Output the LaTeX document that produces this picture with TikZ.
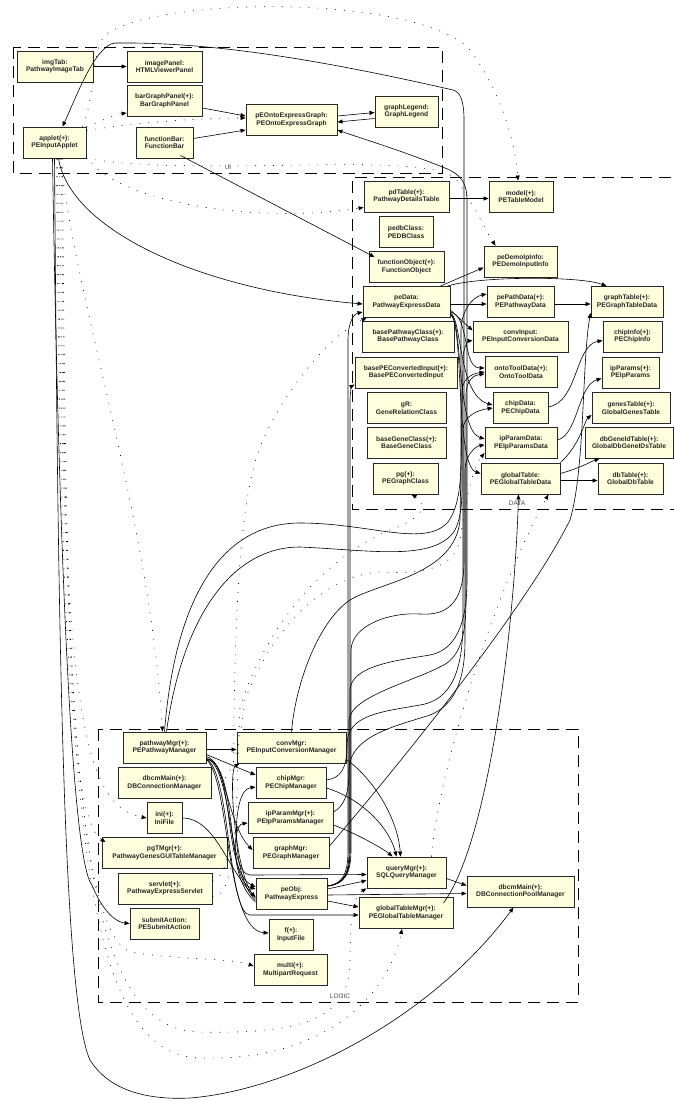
\documentclass[tikz,border=0pt]{standalone}
\usepackage{fontspec}
\setmainfont{Liberation Sans}
\usetikzlibrary{arrows.meta}
\definecolor{clsfill}{RGB}{255,255,221}
\definecolor{clsline}{RGB}{40,40,40}
\tikzset{
	cls/.style = {draw=clsline, fill=clsfill, line width=0.9pt, align=center, minimum height=31pt, inner sep=1pt, text=black!85, font=\bfseries\fontsize{6.7}{7.5}\selectfont},
	w/.style = {minimum width=#1pt},
	pkg/.style = {dash pattern=on 12pt off 7pt, line width=0.8pt},
	pkglabel/.style = {font=\fontsize{6.5}{7}\selectfont, text=black!70, inner sep=1pt}}
\tikzset{
	uses/.style = {-{Triangle[length=5pt,width=4pt]}, line width=0.6pt},
	dep/.style = {uses, dash pattern=on 0.9pt off 8pt}}

\begin{document}
\begin{tikzpicture}[x=1pt, y=-1pt]
\useasboundingbox (0,0) rectangle (673,1101);
\fill[white] (0,0) rectangle (673,1101);

% PACKAGES
\draw[pkg] (13,47) rectangle (442,173);
\draw[pkg] (690,177) -- (352,177) -- (352,509) -- (690,509);
\draw[pkg] (98,729) rectangle (578,1002);
\node[pkglabel] (uiLabel) at (228,167) {UI};
\node[pkglabel] (dataLabel) at (517,503) {DATA};
\node[pkglabel] (logicLabel) at (340,996) {LOGIC};

% NODES (UI)
\node[cls, w=76] (imgTab) at (55,66.5) {imgTab:\\PathwayImageTab};
\node[cls, w=75] (imagePanel) at (164.5,66.5) {imagePanel:\\HTMLViewerPanel};
\node[cls, w=75] (barGraphPanel) at (164.5,101) {barGraphPanel(+):\\BarGraphPanel};
\node[cls, w=91] (pEOntoExpressGraph) at (291.5,120) {pEOntoExpressGraph:\\PEOntoExpressGraph};
\node[cls, w=63] (graphLegend) at (406.5,111.5) {graphLegend:\\GraphLegend};
\node[cls, w=63] (applet) at (54.5,142.5) {applet(+):\\PEInputApplet};
\node[cls, w=57] (functionBar) at (164.5,142.5) {functionBar:\\FunctionBar};

% NODES (DATA)
\node[cls, w=85] (pdTable) at (406.5,196.5) {pdTable(+):\\PathwayDetailsTable};
\node[cls, w=64] (model) at (521,196.5) {model(+):\\PETableModel};
\node[cls, w=54] (pedbClass) at (406,232) {pedbClass:\\PEDBClass};
\node[cls, w=75] (functionObject) at (406.5,267) {functionObject(+):\\FunctionObject};
\node[cls, w=73] (peDemoIpInfo) at (520.5,261.5) {peDemoIpInfo:\\PEDemoInputInfo};
\node[cls, w=87] (peData) at (406.5,302) {peData:\\PathwayExpressData};
\node[cls, w=67] (pePathData) at (520.5,302) {pePathData(+):\\PEPathwayData};
\node[cls, w=72] (graphTable) at (627,302) {graphTable(+):\\PEGraphTableData};
\node[cls, w=92] (basePathwayClass) at (408,336.5) {basePathwayClass(+):\\BasePathwayClass};
\node[cls, w=95] (convInput) at (520.5,336.5) {convInput:\\PEInputConversionData};
\node[cls, w=59] (chipInfo) at (632.5,336.5) {chipInfo(+):\\PEChipInfo};
\node[cls, w=102] (basePEConvertedInput) at (406,372.5) {basePEConvertedInput(+):\\BasePEConvertedInput};
\node[cls, w=72] (ontoToolData) at (521,372) {ontoToolData(+):\\OntoToolData};
\node[cls, w=57] (ipParams) at (630.5,372.5) {ipParams(+):\\PEIpParams};
\node[cls, w=79] (gR) at (406.5,408) {gR:\\GeneRelationClass};
\node[cls, w=55] (chipData) at (520.5,408) {chipData:\\PEChipData};
\node[cls, w=78] (genesTable) at (631,408) {genesTable(+):\\GlobalGenesTable};
\node[cls, w=79] (baseGeneClass) at (406.5,442.5) {baseGeneClass(+):\\BaseGeneClass};
\node[cls, w=72] (ipParamData) at (521,443) {ipParamData:\\PEIpParamsData};
\node[cls, w=88] (dbGeneIdTable) at (629,442.5) {dbGeneIdTable(+):\\GlobalDbGeneIDsTable};
\node[cls, w=65] (pg) at (405.5,478.5) {pg(+):\\PEGraphClass};
\node[cls, w=79] (globalTable) at (520.5,478.5) {globalTable:\\PEGlobalTableData};
\node[cls, w=65] (dbTable) at (630.5,478.5) {dbTable(+):\\GlobalDbTable};

% NODES (LOGIC)
\node[cls, w=83] (pathwayMgr) at (164.5,747.5) {pathwayMgr(+):\\PEPathwayManager};
\node[cls, w=109] (convMgr) at (291.5,747.5) {convMgr:\\PEInputConversionManager};
\node[cls, w=93] (dbcmMain) at (164.5,783) {dbcmMain(+):\\DBConnectionManager};
\node[cls, w=70] (chipMgr) at (291,783) {chipMgr:\\PEChipManager};
\node[cls, w=35] (ini) at (164.5,818) {ini(+):\\IniFile};
\node[cls, w=85] (ipParamMgr) at (290.5,818) {ipParamMgr(+):\\PEIpParamsManager};
\node[cls, w=125] (pgTMgr) at (164.5,853) {pgTMgr(+):\\PathwayGenesGUITableManager};
\node[cls, w=76] (graphMgr) at (291,853) {graphMgr:\\PEGraphManager};
\node[cls, w=94] (servlet) at (165,888.5) {servlet(+):\\PathwayExpressServlet};
\node[cls, w=71] (peObj) at (291.5,894) {peObj:\\PathwayExpress};
\node[cls, w=69] (submitAction) at (164.5,923.5) {submitAction:\\PESubmitAction};
\node[cls, w=44] (f) at (291,935) {f(+):\\InputFile};
\node[cls, w=73] (multi) at (290.5,970) {multi(+):\\MultipartRequest};
\node[cls, w=79] (queryMgr) at (406.5,872.5) {queryMgr(+):\\SQLQueryManager};
\node[cls, w=94] (globalTableMgr) at (406,913) {globalTableMgr(+):\\PEGlobalTableManager};
\node[cls, w=107] (dbcmPool) at (520.5,891.5) {dbcmMain(+):\\DBConnectionPoolManager};

%CONNECTIONS (UI)
\draw[uses] (imgTab.east) -- (imagePanel.west);
\draw[uses] ([yshift=-7pt]barGraphPanel.east) -- ([yshift=4pt]pEOntoExpressGraph.west);
\draw[uses] ([yshift=4pt]functionBar.east) -- ([yshift=-10pt]pEOntoExpressGraph.west);
\draw[uses] ([yshift=4pt]pEOntoExpressGraph.east) -- ([yshift=-1pt]graphLegend.west);
\draw[uses] ([yshift=-7pt]graphLegend.west) -- ([yshift=-2pt]pEOntoExpressGraph.east);
\draw[uses] ([xshift=-13pt,yshift=3pt]functionBar.south east) -- ([xshift=6pt,yshift=-6pt]functionObject.north west);
\draw[uses] ([xshift=4pt]applet.south) .. controls (70,230) and (200,290) .. ([yshift=-2pt]peData.west);

%CONNECTIONS (applet, dotted)
\draw[dep] (applet.north east) .. controls (100,122) and (112,115) .. ([yshift=4pt]barGraphPanel.south west);
\draw[dep] ([yshift=-4pt]applet.north east) .. controls (140,122) and (200,118) .. ([yshift=2pt]pEOntoExpressGraph.west);
\draw[dep] ([yshift=3pt]applet.south east) .. controls (110,200) and (250,225) .. ([yshift=-11pt]pdTable.west);
\draw[dep] ([xshift=-4pt]applet.north east) .. controls (96,95) and (90,55) .. (105,35) .. controls (160,-5) and (420,-5) .. (470,50) .. controls (500,90) and (515,140) .. ([xshift=-3pt]model.north);
\draw[dep] (applet.south east) .. controls (200,178) and (420,150) .. (455,178) .. controls (472,200) and (485,230) .. ([xshift=12pt]peDemoIpInfo.north west);
\draw[dep] ([xshift=6pt]applet.south) .. controls (75,300) and (150,520) .. ([xshift=-2pt]pathwayMgr.north);
\draw[dep] ([xshift=2pt]applet.south) .. controls (60,600) and (70,820) .. ([xshift=4pt,yshift=-5pt]pgTMgr.north west);
\draw[dep] ([xshift=3pt]applet.south) .. controls (62,700) and (80,805) .. (ini.west);
\draw[dep] ([xshift=5pt]applet.south) .. controls (64,700) and (80,930) .. (130,952) .. controls (180,960) and (230,958) .. ([yshift=4pt]multi.west);
\draw[dep] ([xshift=7pt]applet.south) .. controls (66,750) and (70,1055) .. (200,1058) .. controls (330,1062) and (390,990) .. ([xshift=-4pt]globalTableMgr.south);
\draw[dep] ([xshift=8pt]applet.south) .. controls (67,750) and (70,1030) .. (200,1032) .. controls (320,1035) and (350,1010) .. (350,960) .. controls (350,910) and (355,895) .. (queryMgr.south west);

%CONNECTIONS (applet, solid)
\draw[uses] ([xshift=-2pt]applet.south) .. controls (58,500) and (70,860) .. (92,885) .. controls (102,910) and (115,922) .. (submitAction.west);
\draw[uses] (applet.south) .. controls (58,600) and (62,1000) .. (90,1060) .. controls (110,1092) and (150,1100) .. (190,1098) .. controls (290,1090) and (430,1020) .. ([xshift=-7pt]dbcmPool.south);

%CONNECTIONS (peObj, long)
\draw[uses] ([yshift=8pt]peObj.east) .. controls (342,884) and (348,875) .. (348,850) -- (348,340) .. controls (348,322) and (354,314) .. ([yshift=-10pt]peData.west);
\draw[uses] ([yshift=8pt]peObj.east) .. controls (343,884) and (350,875) .. (350,850) -- (350,400) .. controls (350,392) and (352,386) .. ([yshift=-12pt]basePEConvertedInput.west);
\draw[uses] ([yshift=8pt]peObj.east) .. controls (344,884) and (349,875) .. (349,850) -- (349,720) .. controls (351,695) and (420,680) .. (447,663) .. controls (462,652) and (466,630) .. (466,600) -- (466,395) .. controls (466,380) and (474,375) .. ([yshift=-2pt]ontoToolData.west);
\draw[uses] ([yshift=8pt]peObj.east) .. controls (344,884) and (351,875) .. (351,850) -- (351,650) .. controls (352,625) and (390,612) .. (420,614) .. controls (450,616) and (464,600) .. (464,560) -- (464,120) .. controls (464,100) and (460,92) .. (453,90) .. controls (300,55) and (200,42) .. (115,43) .. controls (95,45) and (75,100) .. ([xshift=8pt]applet.north);
\draw[uses] ([yshift=8pt]peObj.east) .. controls (344,884) and (350,875) .. (350,850) -- (350,690) .. controls (351,665) and (400,660) .. (430,655) .. controls (455,650) and (467,625) .. (467,580) -- (467,200) .. controls (467,182) and (460,174) .. (445,168) .. controls (400,150) and (360,138) .. ([yshift=-10pt]pEOntoExpressGraph.east);

%CONNECTIONS (LOGIC to DATA)
\draw[uses] (pathwayMgr.north) .. controls (175,600) and (220,523) .. (300,523) .. controls (370,523) and (425,548) .. (448,522) .. controls (460,505) and (461,480) .. (461,450) -- (461,330) .. controls (461,312) and (472,297) .. ([yshift=8pt]pePathData.west);
\draw[uses] ([xshift=2pt]pathwayMgr.north) .. controls (182,620) and (230,547) .. (300,547) .. controls (370,550) and (435,562) .. (455,530) .. controls (462,515) and (462,500) .. (462,480) -- (462,392) .. controls (462,380) and (470,374) .. (ontoToolData.west);
\draw[uses] (convMgr.north) .. controls (296,680) and (320,620) .. (350,600) .. controls (380,582) and (455,575) .. (460,520) -- (463,360) .. controls (463,348) and (468,341) .. ([yshift=-4pt]convInput.west);
\draw[uses] ([yshift=3pt]chipMgr.east) .. controls (340,778) and (347,770) .. (347,745) .. controls (347,715) and (380,712) .. (420,705) .. controls (452,700) and (463,670) .. (463,620) -- (463,430) .. controls (463,416) and (478,410) .. (chipData.west);
\draw[uses] ([yshift=6pt]ipParamMgr.east) .. controls (344,806) and (349,795) .. (349,770) .. controls (349,735) and (400,725) .. (430,715) .. controls (455,705) and (465,680) .. (465,640) -- (465,470) .. controls (465,455) and (476,446) .. ([yshift=-2pt]ipParamData.west);
\draw[uses] ([yshift=7pt]graphMgr.east) .. controls (420,740) and (530,600) .. (570,520) .. controls (585,470) and (582,360) .. ([yshift=5pt]graphTable.south west);
\draw[uses] ([xshift=-10pt,yshift=-6pt]globalTableMgr.north east) .. controls (490,840) and (515,620) .. ([xshift=-2pt]globalTable.south);

%CONNECTIONS (LOGIC)
\draw[uses] ([yshift=-2pt]pathwayMgr.east) -- ([yshift=-2pt]convMgr.west);
\draw[uses] ([yshift=-7pt]pathwayMgr.east) -- ([yshift=8pt]chipMgr.west);
\draw[uses] ([yshift=-9pt]pathwayMgr.east) .. controls (225,760) and (228,825) .. ([yshift=3pt]graphMgr.west);
\draw[uses] ([yshift=-11pt]pathwayMgr.east) .. controls (235,760) and (222,870) .. ([yshift=7pt]peObj.west);
\draw[uses] ([yshift=-12pt]pathwayMgr.east) .. controls (238,762) and (225,880) .. ([yshift=5pt]peObj.west);
\draw[uses] (ini.east) .. controls (215,818) and (228,870) .. ([yshift=-3pt]peObj.west);
\draw[uses] ([yshift=-11pt]pathwayMgr.east) .. controls (232,765) and (228,875) .. (250,875) -- ([yshift=-2pt]queryMgr.west);
\draw[uses] ([yshift=-12pt]pathwayMgr.east) .. controls (230,770) and (228,915) .. (250,915) -- ([yshift=-2pt]globalTableMgr.west);
\draw[uses] ([yshift=-12pt]pathwayMgr.east) .. controls (230,780) and (225,930) .. ([yshift=2pt]f.west);
\draw[uses] ([yshift=-4pt]peObj.west) .. controls (235,880) and (228,770) .. ([xshift=3pt]convMgr.south west);
\draw[uses] ([yshift=-6pt]peObj.west) .. controls (232,880) and (230,790) .. ([yshift=-4pt]chipMgr.west);
\draw[uses] ([yshift=-8pt]peObj.west) .. controls (230,880) and (232,825) .. ([yshift=-5pt]ipParamMgr.west);
\draw[uses] ([yshift=5pt]peObj.east) -- ([yshift=-8pt]queryMgr.west);
\draw[uses] ([yshift=-1pt]peObj.east) -- ([yshift=-2pt]dbcmPool.west);
\draw[uses] ([yshift=-7pt]peObj.east) -- ([yshift=6pt]globalTableMgr.west);
\draw[uses] ([yshift=-6pt]queryMgr.east) -- ([yshift=6pt]dbcmPool.west);
\draw[uses] ([yshift=-12pt]convMgr.east) .. controls (375,780) and (398,820) .. ([xshift=-6pt]queryMgr.north);
\draw[uses] ([yshift=-5pt]chipMgr.east) .. controls (365,800) and (390,830) .. ([xshift=-10pt]queryMgr.north);
\draw[uses] ([yshift=-7pt]ipParamMgr.east) .. controls (360,835) and (385,850) .. ([xshift=-14pt]queryMgr.north);

%CONNECTIONS (DATA)
\draw[uses] ([yshift=-2pt]pdTable.east) -- ([yshift=-2pt]model.west);
\draw[uses] ([yshift=-2pt]peData.east) -- ([yshift=-2pt]pePathData.west);
\draw[uses] ([xshift=-10pt]peData.north east) -- ([yshift=-6pt]peDemoIpInfo.west);
\draw[uses] ([xshift=-3pt]peData.north east) .. controls (480,276) and (580,276) .. ([xshift=16pt]graphTable.north west);
\draw[uses] ([yshift=-2pt]pePathData.east) -- ([yshift=-2pt]graphTable.west);
\draw[uses] ([yshift=-8pt]peData.east) -- ([yshift=6pt]convInput.west);
\draw[uses] ([yshift=-10pt]peData.east) .. controls (470,316) and (462,368) .. ([yshift=4pt]ontoToolData.west);
\draw[uses] ([yshift=-11pt]peData.east) .. controls (462,318) and (458,395) .. ([yshift=3pt]chipData.west);
\draw[uses] ([yshift=-12pt]peData.east) .. controls (463,320) and (456,430) .. ([yshift=4pt]ipParamData.west);
\draw[uses] ([yshift=-13pt]peData.east) .. controls (464,322) and (455,465) .. ([yshift=5pt]globalTable.west);
\draw[uses] ([yshift=1pt]chipData.east) .. controls (578,402) and (575,345) .. ([yshift=-4pt]chipInfo.west);
\draw[uses] ([yshift=3pt]ipParamData.east) .. controls (578,435) and (578,385) .. ([yshift=-6pt]ipParams.west);
\draw[uses] (globalTable.north east) .. controls (580,445) and (585,420) .. ([yshift=-7pt]genesTable.west);
\draw[uses] ([yshift=5pt]globalTable.east) .. controls (580,468) and (590,462) .. ([xshift=15pt]dbGeneIdTable.south west);
\draw[uses] ([yshift=-2pt]globalTable.east) -- ([yshift=-2pt]dbTable.west);

%CONNECTIONS (dotted, LOGIC to DATA)
\draw[dep] ([yshift=8pt]servlet.east) .. controls (234,878) and (233,800) .. (234,720) .. controls (236,560) and (245,480) .. (263,440) .. controls (285,390) and (330,335) .. ([xshift=4pt]peData.south west);
\draw[dep] ([yshift=-8pt]servlet.east) .. controls (238,900) and (236,800) .. (240,707) .. controls (265,630) and (320,560) .. (390,530) .. controls (420,520) and (430,505) .. ([xshift=6pt]pg.south);
\draw[dep] ([yshift=-6pt]dbcmMain.east) .. controls (235,780) and (240,740) .. (245,700) .. controls (275,620) and (330,575) .. (380,572) .. controls (430,575) and (455,565) .. (460,540) .. controls (463,520) and (470,470) .. ([yshift=-10pt]ipParamData.west);
\draw[dep] ([xshift=-15pt]queryMgr.north east) .. controls (440,760) and (500,580) .. ([xshift=-12pt]globalTable.south east);

\end{tikzpicture}
\end{document}
